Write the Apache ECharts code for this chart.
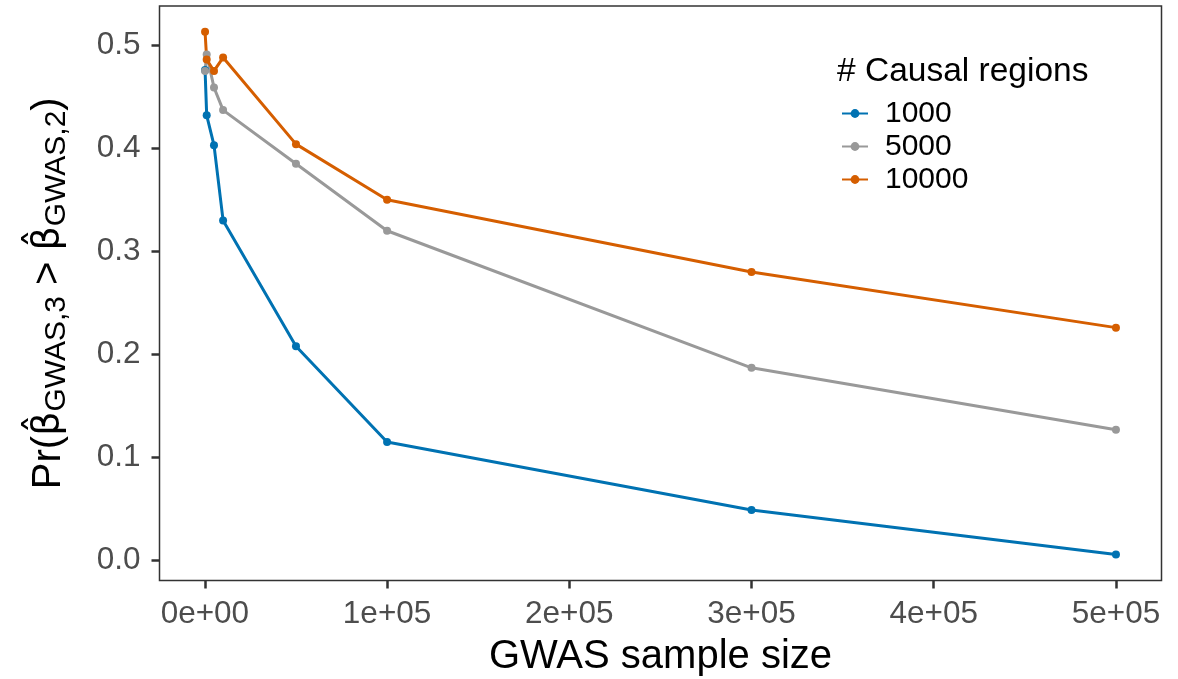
<!DOCTYPE html>
<html>
<head>
<meta charset="utf-8">
<script src="https://cdn.jsdelivr.net/npm/echarts@6/dist/echarts.min.js"></script>
</head>
<body style="margin:0;background:#fff">
<div id="main" style="width:1178px;height:679px"></div>
<script>
// GWAS sample sizes (x) and probability per number of causal regions
var sampleSizes = [100, 1000, 5000, 10000, 50000, 100000, 300000, 500000];
var prob1000  = [0.476, 0.432, 0.403, 0.330, 0.208, 0.115, 0.049, 0.006];
var prob5000  = [0.475, 0.491, 0.459, 0.437, 0.385, 0.320, 0.187, 0.127];
var prob10000 = [0.513, 0.486, 0.475, 0.488, 0.404, 0.350, 0.280, 0.226];
var seriesNames = ['1000', '5000', '10000'];
var seriesColors = ['#0072B2', '#999999', '#D55E00'];
var xTicks = [0, 100000, 200000, 300000, 400000, 500000];
var yTicks = [0, 0.1, 0.2, 0.3, 0.4, 0.5];

var font = 'Liberation Sans';
var chart = echarts.init(document.getElementById('main'), null, { renderer: 'canvas' });

function pairs(vals) {
  return sampleSizes.map(function (x, i) { return [x, vals[i]]; });
}
function sciLabel(v) {
  if (v === 0) return '0e+00';
  var e = Math.floor(Math.log10(v));
  var m = Math.round(v / Math.pow(10, e));
  return m + 'e+' + (e < 10 ? '0' + e : e);
}

var allVals = [prob1000, prob5000, prob10000];
var series = allVals.map(function (vals, i) {
  return {
    name: seriesNames[i],
    type: 'line',
    data: pairs(vals),
    symbol: 'circle',
    symbolSize: 8,
    showSymbol: true,
    lineStyle: { width: 3, color: seriesColors[i] },
    itemStyle: { color: seriesColors[i] },
    emphasis: { disabled: true },
    animation: false
  };
});

var option = {
  animation: false,
  title: {
    text: '# Causal regions',
    left: 832, top: 50,
    textStyle: { fontFamily: font, fontSize: 33.5, fontWeight: 'normal', color: '#000' }
  },
  legend: {
    data: seriesNames,
    orient: 'vertical',
    left: 836, top: 92,
    itemWidth: 26, itemHeight: 11, itemGap: 0,
    textStyle: { fontFamily: font, fontSize: 30, color: '#000', lineHeight: 33, padding: [0, 0, 0, 12] }
  },
  grid: {
    left: 159.5, right: 16.5, top: 6, bottom: 98.5,
    show: true, borderColor: '#333', borderWidth: 1.5,
    containLabel: false, outerBoundsMode: 'none'
  },
  xAxis: {
    type: 'value',
    min: -24900, max: 525000,
    name: 'GWAS sample size',
    nameLocation: 'middle',
    nameGap: 56,
    nameTextStyle: { fontFamily: font, fontSize: 40, color: '#000' },
    axisLine: { show: false, onZero: false },
    axisTick: { show: true, customValues: xTicks, length: 8, lineStyle: { color: '#333', width: 2.5 } },
    axisLabel: { customValues: xTicks, formatter: sciLabel, fontFamily: font, fontSize: 31.5, color: '#4D4D4D', margin: 18 },
    splitLine: { show: false }
  },
  yAxis: {
    type: 'value',
    min: -0.0193, max: 0.538,
    name: '{n|Pr(}{b|β̂}{s|GWAS,3}{n| > }{b|β̂}{s|GWAS,2}{n|)}',
    nameLocation: 'middle',
    nameRotate: 90,
    nameGap: 88,
    nameTextStyle: {
      rich: {
        n: { fontFamily: font, fontSize: 40, color: '#000', lineHeight: 46 },
        b: { fontFamily: 'DejaVu Sans', fontSize: 38, color: '#000', lineHeight: 46 },
        s: { fontFamily: font, fontSize: 30, color: '#000', lineHeight: 30, verticalAlign: 'bottom' }
      }
    },
    axisLine: { show: false, onZero: false },
    axisTick: { show: true, customValues: yTicks, length: 8, lineStyle: { color: '#333', width: 2.5 } },
    axisLabel: { customValues: yTicks, formatter: function (v) { return v.toFixed(1); }, fontFamily: font, fontSize: 31.5, color: '#4D4D4D', margin: 19 },
    splitLine: { show: false }
  },
  series: series
};
chart.setOption(option);
</script>
</body>
</html>
